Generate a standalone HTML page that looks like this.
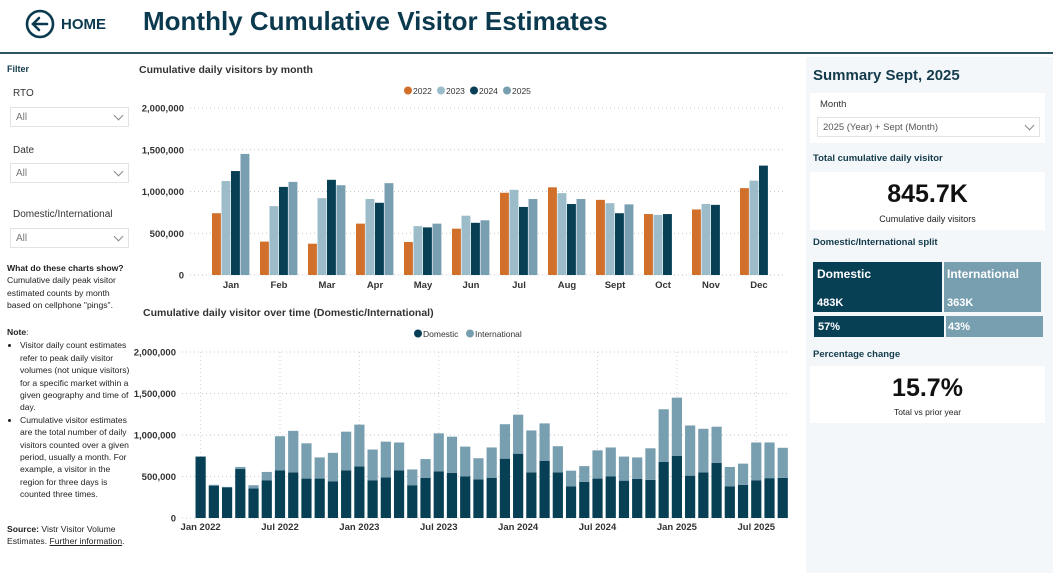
<!DOCTYPE html>
<html><head><meta charset="utf-8">
<style>
*{box-sizing:border-box;margin:0;padding:0}
body{width:1053px;height:573px;background:#fff;font-family:"Liberation Sans",sans-serif;position:relative;overflow:hidden;color:#222}
.abs{position:absolute}
.dd{position:absolute;left:10px;width:119px;height:20px;border:1px solid #e3e3e3;background:#fff;font-size:10px;color:#777;padding:4px 0 0 5px}
.dd:after{content:"";position:absolute;right:6px;top:4px;width:6px;height:6px;border-right:1px solid #888;border-bottom:1px solid #888;transform:rotate(45deg)}
.lbl{position:absolute;left:13px;font-size:10px;color:#333}
.small{font-size:8.6px;line-height:12.4px;color:#222}
.card{position:absolute;left:810px;width:235px;background:#fff}
.st{position:absolute;left:813px;font-size:9.5px;font-weight:bold;color:#133b4c}
</style></head><body>
<div class="abs" style="left:0;top:0;width:1053px;height:54px;border-bottom:2px solid #2c5566"></div>
<div class="abs" style="left:25px;top:9px;width:90px;height:30px">
 <svg width="30" height="30" style="position:absolute;left:0;top:0"><circle cx="15" cy="15" r="13" fill="none" stroke="#0b3a4f" stroke-width="2.6"/><path d="M8 15h14M14 9l-6 6 6 6" fill="none" stroke="#0b3a4f" stroke-width="2.6" stroke-linecap="round"/></svg>
 <span style="position:absolute;left:36px;top:7px;font-size:15px;font-weight:bold;color:#0b3a4f">HOME</span>
</div>
<div class="abs" style="left:143px;top:6px;font-size:26px;font-weight:bold;color:#0b3a4f">Monthly Cumulative Visitor Estimates</div>

<div class="abs" style="left:7px;top:64px;font-size:9px;font-weight:bold;color:#133b4c">Filter</div>
<div class="lbl" style="top:88px">RTO</div>
<div class="dd" style="top:107px">All</div>
<div class="lbl" style="top:145px">Date</div>
<div class="dd" style="top:163px">All</div>
<div class="lbl" style="top:209px">Domestic/International</div>
<div class="dd" style="top:228px">All</div>
<div class="abs small" style="left:7px;top:262px;width:125px"><b>What do these charts show?</b><br>Cumulative daily peak visitor estimated counts by month based on cellphone "pings".</div>
<div class="abs small" style="left:7px;top:326px;width:127px"><b>Note</b>:
<ul style="padding-left:13px;margin-top:1px">
<li>Visitor daily count estimates refer to peak daily visitor volumes (not unique visitors) for a specific market within a given geography and time of day.</li>
<li>Cumulative visitor estimates are the total number of daily visitors counted over a given period, usually a month. For example, a visitor in the region for three days is counted three times.</li></ul></div>
<div class="abs small" style="left:7px;top:523px;width:132px"><b>Source:</b> Vistr Visitor Volume Estimates. <u>Further information</u>.</div>

<svg id="topc" class="abs" style="left:0;top:0" width="800" height="300"></svg>
<svg id="botc" class="abs" style="left:0;top:0" width="800" height="573"></svg>

<div class="abs" style="left:806px;top:57px;width:247px;height:516px;background:#f4f7fa"></div>
<div class="abs" style="left:813px;top:67px;font-size:15px;font-weight:bold;color:#133b4c">Summary Sept, 2025</div>
<div class="card" style="top:93px;height:50px"></div>
<div class="abs" style="left:820px;top:99px;font-size:9.5px;color:#333">Month</div>
<div class="dd" style="left:817px;top:117px;width:223px;font-size:9.5px;color:#555">2025 (Year) + Sept (Month)</div>
<div class="st" style="top:153px">Total cumulative daily visitor</div>
<div class="card" style="top:172px;height:58px"></div>
<div class="abs" style="left:810px;width:235px;top:180px;text-align:center;font-size:25px;font-weight:bold;color:#111">845.7K</div>
<div class="abs" style="left:810px;width:235px;top:214px;text-align:center;font-size:9px;color:#222">Cumulative daily visitors</div>
<div class="st" style="top:237px">Domestic/International split</div>
<div class="abs" style="left:813px;top:262px;width:129px;height:50px;background:#073f55;color:#fff;font-weight:bold"><div style="position:absolute;left:4px;top:5px;font-size:12px">Domestic</div><div style="position:absolute;left:4px;top:35px;font-size:11px">483K</div></div>
<div class="abs" style="left:944px;top:262px;width:97px;height:50px;background:#789fb0;color:#fff;font-weight:bold"><div style="position:absolute;left:3px;top:5px;font-size:12px">International</div><div style="position:absolute;left:3px;top:35px;font-size:11px">363K</div></div>
<div class="abs" style="left:814px;top:316px;width:130px;height:21px;background:#073f55;color:#fff;font-weight:bold;font-size:11px;padding:5px 4px">57%</div>
<div class="abs" style="left:946px;top:316px;width:97px;height:21px;background:#789fb0;color:#fff;font-weight:bold;font-size:11px;padding:5px 2px">43%</div>
<div class="st" style="top:349px">Percentage change</div>
<div class="card" style="top:366px;height:57px"></div>
<div class="abs" style="left:810px;width:235px;top:374px;text-align:center;font-size:25px;font-weight:bold;color:#111">15.7%</div>
<div class="abs" style="left:810px;width:235px;top:407px;text-align:center;font-size:8.5px;color:#222">Total vs prior year</div>

<script>
const months=["Jan","Feb","Mar","Apr","May","Jun","Jul","Aug","Sept","Oct","Nov","Dec"];
const years=["2022","2023","2024","2025"];
const yearColors=["#d0702b","#9bbcc8","#073f55","#789fb0"];
const yTicks=[0,500000,1000000,1500000,2000000];
const dates=["Jan 2022","Feb 2022","Mar 2022","Apr 2022","May 2022","Jun 2022","Jul 2022","Aug 2022","Sep 2022","Oct 2022","Nov 2022","Dec 2022","Jan 2023","Feb 2023","Mar 2023","Apr 2023","May 2023","Jun 2023","Jul 2023","Aug 2023","Sep 2023","Oct 2023","Nov 2023","Dec 2023","Jan 2024","Feb 2024","Mar 2024","Apr 2024","May 2024","Jun 2024","Jul 2024","Aug 2024","Sep 2024","Oct 2024","Nov 2024","Dec 2024","Jan 2025","Feb 2025","Mar 2025","Apr 2025","May 2025","Jun 2025","Jul 2025","Aug 2025","Sep 2025"];
const domestic=[740,390,370,590,355,455,575,550,475,475,440,575,620,455,490,575,395,485,560,545,500,465,485,715,775,550,690,550,380,435,475,500,450,470,460,675,750,510,550,665,380,400,455,480,483].map(v=>v*1000);
const international=[0,10,5,25,40,100,410,500,425,255,345,465,505,370,430,335,190,225,460,435,360,255,365,415,470,505,450,315,190,190,340,350,290,260,380,635,700,605,525,435,235,255,455,430,363].map(v=>v*1000);
const bottomTickLabels=["Jan 2022","Jul 2022","Jan 2023","Jul 2023","Jan 2024","Jul 2024","Jan 2025","Jul 2025"];
const NS="http://www.w3.org/2000/svg";
function mk(p,t,a,txt){const e=document.createElementNS(NS,t);for(const k in a)e.setAttribute(k,a[k]);if(txt!==undefined)e.textContent=txt;p.appendChild(e);return e;}
function fmt(v){return v.toLocaleString("en-US");}

const topSvg=document.getElementById("topc");
const byYear=[[],[],[],[]];
dates.forEach((d,i)=>{byYear[Math.floor(i/12)][i%12]=domestic[i]+international[i];});
const tx0=207,tstep=48,ty0=275,ty1=108;
const tY=v=>ty0-(v/2000000)*(ty0-ty1);
const tX=i=>tx0+i*tstep+tstep/2;
let tt=mk(topSvg,"text",{x:139,y:73,"font-size":"10.5","font-weight":"bold",fill:"#333"},"Cumulative daily visitors by month");


yTicks.forEach(v=>{
 const g=mk(topSvg,"line",{x1:190,x2:785,y1:tY(v),y2:tY(v),stroke:"#c8c8c8","stroke-dasharray":"1,3"});
 
 
 const l=mk(topSvg,"text",{x:184,y:tY(v)+3.5,"text-anchor":"end","font-size":"9.5","font-weight":"bold",fill:"#333"},fmt(v));
 
 
});
const bw=9.5;
months.forEach((m,i)=>{
 const l=mk(topSvg,"text",{x:tX(i),y:288,"text-anchor":"middle","font-size":"9.5","font-weight":"bold",fill:"#333"},m);
 
 
 years.forEach((y,j)=>{
  const v=byYear[j][i]; if(v===undefined)return;
  const r=mk(topSvg,"rect",{x:tX(i)-2*bw+j*bw,y:tY(v),width:bw-0.6,height:ty0-tY(v),fill:yearColors[j]});
  
  
 });
});
years.forEach((y,j)=>{
 const x=404+j*33;
 const c=mk(topSvg,"circle",{cx:x+4,cy:90.5,r:4,fill:yearColors[j]});
 
 
 const l=mk(topSvg,"text",{x:x+9,y:94,"font-size":"8.5",fill:"#333"},y);
 
 
});

const botSvg=document.getElementById("botc");
const bx0=194,bstep=13.23,by0=518,by1=352;
const bY=v=>by0-(v/2000000)*(by0-by1);
const bX=i=>bx0+i*bstep+bstep/2;
tt=mk(botSvg,"text",{x:143,y:316,"font-size":"10.5","font-weight":"bold",fill:"#333"},"Cumulative daily visitor over time (Domestic/International)");


yTicks.forEach(v=>{
 const g=mk(botSvg,"line",{x1:182,x2:790,y1:bY(v),y2:bY(v),stroke:"#c8c8c8","stroke-dasharray":"1,3"});
 
 
 const l=mk(botSvg,"text",{x:176,y:bY(v)+3.5,"text-anchor":"end","font-size":"9.5","font-weight":"bold",fill:"#333"},fmt(v));
 
 
});
bottomTickLabels.forEach(lab=>{
 const i=dates.indexOf(lab);
 const g=mk(botSvg,"line",{x1:bX(i),x2:bX(i),y1:by1,y2:by0,stroke:"#d0d0d0","stroke-dasharray":"1,3"});
 
 
 const l=mk(botSvg,"text",{x:bX(i),y:530,"text-anchor":"middle","font-size":"9.5","font-weight":"bold",fill:"#333"},lab);
 
 
});
dates.forEach((d,i)=>{
 const w=10.2,x=bX(i)-w/2;
 const r1=mk(botSvg,"rect",{x:x,y:bY(domestic[i]),width:w,height:by0-bY(domestic[i]),fill:"#073f55"});
 
 
 const tot=domestic[i]+international[i];
 if(international[i]>0){
  const r2=mk(botSvg,"rect",{x:x,y:bY(tot),width:w,height:bY(domestic[i])-bY(tot),fill:"#789fb0"});
  
  
 }
});
[["Domestic","#073f55",414],["International","#789fb0",466]].forEach(([n,c,x])=>{
 const m=mk(botSvg,"circle",{cx:x+4,cy:333.5,r:4,fill:c});
 
 
 const l=mk(botSvg,"text",{x:x+9,y:337,"font-size":"8.5",fill:"#333"},n);
 
 
});
</script>
</body></html>
